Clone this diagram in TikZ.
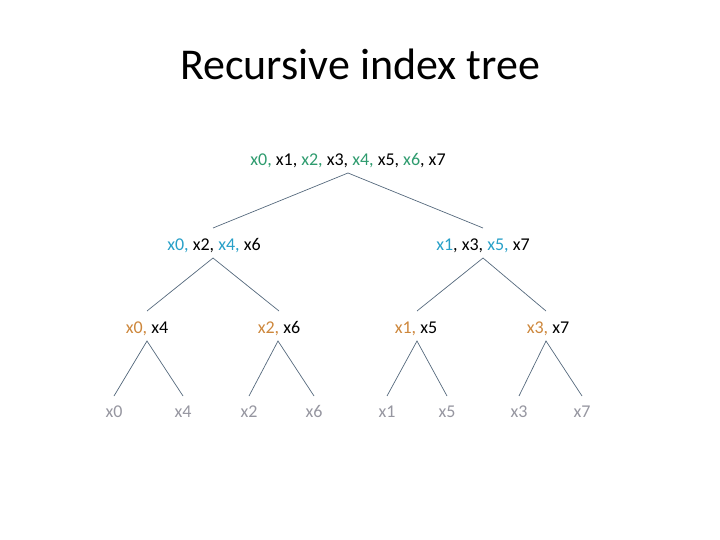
\documentclass[tikz,border=0pt]{standalone}
\usepackage{fontspec}
\setmainfont{Carlito}
\definecolor{cg}{RGB}{46,155,110}
\definecolor{cb}{RGB}{40,160,200}
\definecolor{co}{RGB}{205,135,60}
\definecolor{cgr}{RGB}{150,150,160}
\definecolor{edge}{RGB}{85,105,125}
\begin{document}
\begin{tikzpicture}[x=1pt,y=-1pt,
  lbl/.style={font=\fontsize{18}{20}\selectfont, anchor=base, inner sep=0pt},
  leaf/.style={lbl, text=cgr},
  br/.style={draw=edge, line width=0.7pt}]
\useasboundingbox (0,0) rectangle (720,540);
\node[anchor=base, inner sep=0pt, font=\fontsize{44}{48}\selectfont] (title) at (360,80) {Recursive index tree};
% labels
\node[lbl] (r) at (348,166) {\textcolor{cg}{x0,} x1, \textcolor{cg}{x2,} x3, \textcolor{cg}{x4,} x5, \textcolor{cg}{x6}, x7};
\node[lbl] (a) at (214,250) {\textcolor{cb}{x0,} x2, \textcolor{cb}{x4,} x6};
\node[lbl] (b) at (483,250) {\textcolor{cb}{x1}, x3, \textcolor{cb}{x5,} x7};
\node[lbl] (aa) at (147,333) {\textcolor{co}{x0,} x4};
\node[lbl] (ab) at (279,333) {\textcolor{co}{x2,} x6};
\node[lbl] (ba) at (416,333) {\textcolor{co}{x1,} x5};
\node[lbl] (bb) at (548,333) {\textcolor{co}{x3,} x7};
\node[leaf] (l0) at (114,417) {x0};
\node[leaf] (l4) at (183,417) {x4};
\node[leaf] (l2) at (249,417) {x2};
\node[leaf] (l6) at (314,417) {x6};
\node[leaf] (l1) at (387,417) {x1};
\node[leaf] (l5) at (447,417) {x5};
\node[leaf] (l3) at (519,417) {x3};
\node[leaf] (l7) at (582,417) {x7};
% joints
\coordinate (rt) at (348,173);
\coordinate (at) at (213,258);
\coordinate (bt) at (483,258);
\coordinate (aat) at (147,341);
\coordinate (abt) at (278,341);
\coordinate (bat) at (417,341);
\coordinate (bbt) at (546,341);
\coordinate (ab1) at (213,228);
\coordinate (bb1) at (483,228);
\coordinate (aab) at (147,311);
\coordinate (abb) at (279,311);
\coordinate (bab) at (417,311);
\coordinate (bbb) at (546,311);
\coordinate (l0t) at (114,396);
\coordinate (l4t) at (183,396);
\coordinate (l2t) at (249,396);
\coordinate (l6t) at (314,396);
\coordinate (l1t) at (387,396);
\coordinate (l5t) at (447,396);
\coordinate (l3t) at (519,396);
\coordinate (l7t) at (582,396);
\draw[br] (ab1) -- (rt) -- (bb1);
\draw[br] (aab) -- (at) -- (abb);
\draw[br] (bab) -- (bt) -- (bbb);
\draw[br] (l0t) -- (aat) -- (l4t);
\draw[br] (l2t) -- (abt) -- (l6t);
\draw[br] (l1t) -- (bat) -- (l5t);
\draw[br] (l3t) -- (bbt) -- (l7t);
\end{tikzpicture}
\end{document}
